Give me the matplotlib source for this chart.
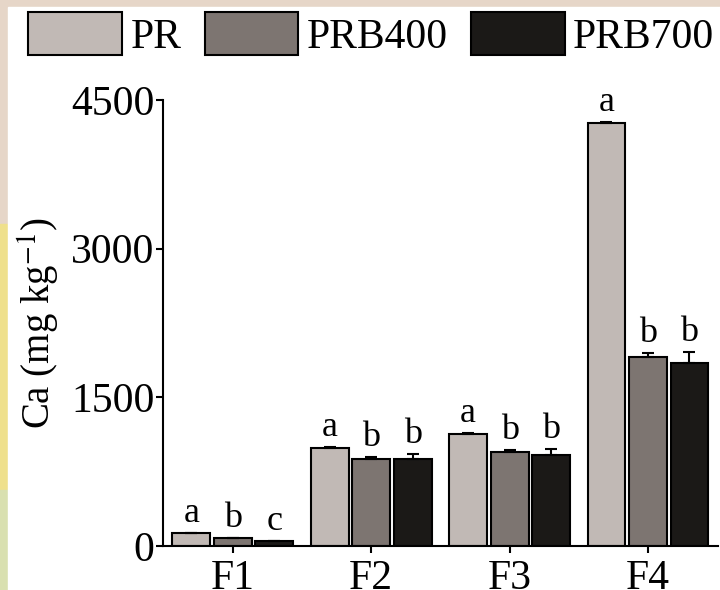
import matplotlib.pyplot as plt
import numpy as np
from matplotlib.patches import Patch, Rectangle

plt.rcParams["font.family"] = ["Liberation Serif", "DejaVu Serif"]
plt.rcParams["mathtext.fontset"] = "stix"

fractions = ["F1", "F2", "F3", "F4"]
treatments = ["PR", "PRB400", "PRB700"]
pr_vals = [131, 989, 1130, 4265]
prb400_vals = [81, 878, 949, 1907]
prb700_vals = [50, 878, 918, 1847]
pr_err = [0, 10, 10, 12]
prb400_err = [0, 20, 18, 40]
prb700_err = [0, 55, 60, 110]
pr_sig = ["a", "a", "a", "a"]
prb400_sig = ["b", "b", "b", "b"]
prb700_sig = ["c", "b", "b", "b"]

COLORS = ["#c1b9b5", "#7d7571", "#1b1917"]

fig = plt.figure(figsize=(7.2, 5.9), dpi=100)
fig.patch.set_facecolor("#e6d6c8")
# margin texture: yellow/green strip on the left, white panel over the rest
for (x0, y0, w, h, c) in [(0, 0.17, 0.012, 0.45, "#efe08c"),
                          (0, 0.0, 0.012, 0.17, "#d9e0b0"),
                          (0.011, 0, 0.989, 0.988, "white")]:
    fig.add_artist(Rectangle((x0, y0), w, h, transform=fig.transFigure,
                             color=c, zorder=-10))

ax = fig.add_axes([0.2264, 0.0746, 0.7706, 0.7559])
ax.set_facecolor("none")

x = np.arange(len(fractions))
width = 0.274
offset = 0.3
series = [(pr_vals, pr_err, pr_sig), (prb400_vals, prb400_err, prb400_sig),
          (prb700_vals, prb700_err, prb700_sig)]

for i, (vals, errs, sig) in enumerate(series):
    pos = x + (i - 1) * offset
    ax.bar(pos, vals, width=width, color=COLORS[i], edgecolor="black",
           linewidth=1.5, zorder=2)
    ax.errorbar(pos, vals, yerr=[np.zeros(len(errs)), errs], fmt="none",
                ecolor="black", elinewidth=1.5, capsize=4, capthick=1.5, zorder=3)
    for p, v, e, s in zip(pos, vals, errs, sig):
        ax.annotate(s, xy=(p, v + e), xytext=(0, 2), textcoords="offset points",
                    ha="center", va="bottom", fontsize=26)

ax.set_xlim(-0.505, 3.505)
ax.set_ylim(0, 4500)
ax.set_yticks([0, 1500, 3000, 4500])
ax.set_xticks(x)
ax.set_xticklabels(fractions)
ax.tick_params(axis="both", direction="out", length=5, width=1.5, labelsize=30, pad=1)
ax.tick_params(axis="x", pad=5)
ax.spines["top"].set_visible(False)
ax.spines["right"].set_visible(False)
ax.spines["left"].set_linewidth(1.5)
ax.spines["bottom"].set_linewidth(1.5)
ax.set_ylabel("Ca (mg kg$^{-1}$)", fontsize=28, labelpad=7)

handles = [Patch(facecolor=c, edgecolor="black", linewidth=1.5) for c in COLORS]
fig.legend(handles, treatments, loc="upper left", bbox_to_anchor=(0.022, 1.0),
           ncol=3, frameon=False, fontsize=30, handlelength=2.25, handleheight=1.2,
           handletextpad=0.2, columnspacing=0.56, borderaxespad=0.1,
           borderpad=0.2)

fig.savefig("out.png", dpi=100)
